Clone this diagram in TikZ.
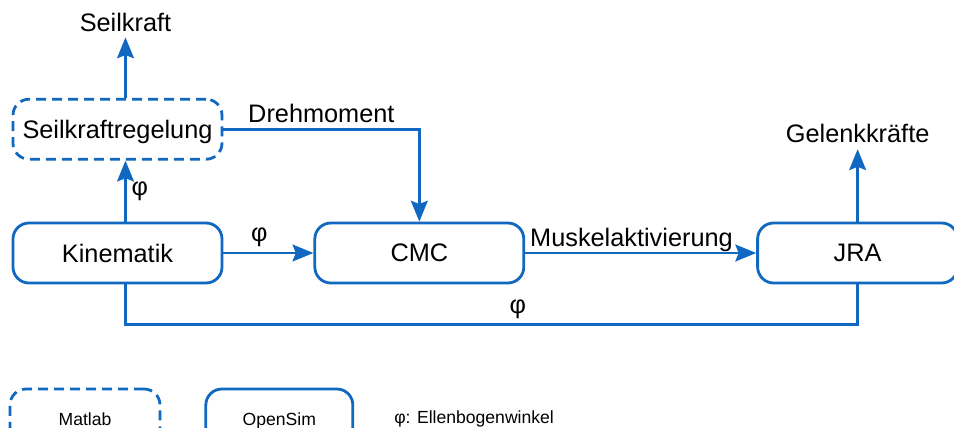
\documentclass[tikz,border=0pt]{standalone}
\usepackage{fontspec}
\setmainfont{Liberation Sans}
\usetikzlibrary{arrows.meta, positioning}
\definecolor{blau}{RGB}{16,104,192}

\begin{document}
\begin{tikzpicture}[font=\fontsize{18}{21.6}\selectfont, line width=2pt,
        pfeil/.style={draw=blau, -{Stealth[length=5.2mm, width=4.2mm, inset=0.8mm]}},
        linie/.style={draw=blau},
        block/.style={draw=blau, rounded corners=0.4cm, minimum width=5.225cm, minimum height=1.5cm, text depth=0pt},
        mblock/.style={block, dash pattern=on 0.25cm off 0.15cm},
        klein/.style={font=\fontsize{12.5}{15}\selectfont}]
        \useasboundingbox (0,0) rectangle (23.85,-10.675);

        \node (kin) [block] at (2.9375,-6.325) {Kinematik};
        \node (seil) [mblock, above=1.525cm of kin] {Seilkraftregelung};
        \node (cmc) [block, right=2.25cm of kin] {CMC};
        \node (jra) [block, minimum width=5cm, right=5.775cm of cmc] {JRA};
        \node (seilkraft) [above=1.51cm of seil, xshift=2mm] {Seilkraft};
        \node (gelenk) [above=1.81cm of jra] {Gelenkkräfte};

        \draw[pfeil] ([xshift=2mm]seil.north) -- (seilkraft);
        \draw[pfeil] ([xshift=2mm]kin.north) -- ([xshift=2mm]seil.south) node[midway, right] {φ};
        \draw[pfeil] (seil.east) -| (cmc.north) node[pos=0.25, above] {Drehmoment};
        \draw[pfeil] (kin) -- (cmc) node[pos=0.4, above] {φ};
        \draw[pfeil] (cmc) -- (jra) node[pos=0.46, above, text depth=0pt] {Muskelaktivierung};
        \draw[pfeil] (jra) -- (gelenk);
        \draw[linie] ([xshift=2mm]kin.south) -- ++(0,-1) -| (jra.south) node[pos=0.268, above] {φ};

        % Legende
        \node (matlab) [mblock, klein, minimum width=3.75cm] at (2.125,-10.475) {Matlab};
        \node (opensim) [block, klein, minimum width=3.675cm, right=1.075cm of matlab] {OpenSim};
        \node (legende) [klein, right=0.85cm of opensim] {φ: Ellenbogenwinkel};

\end{tikzpicture}
\end{document}
